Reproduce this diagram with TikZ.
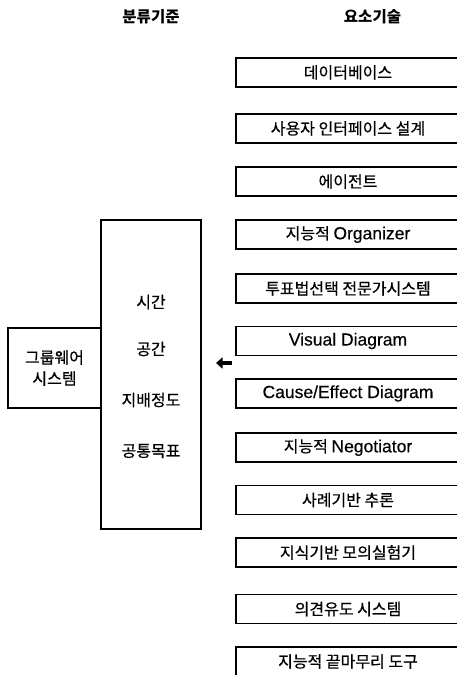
\documentclass[tikz,border=0pt]{standalone}
\usepackage{fontspec}
\setmainfont{Noto Sans CJK KR}
\newfontfamily\kr[FakeBold=0.5]{Noto Sans CJK KR}
\newfontfamily\lat[FakeBold=0.3]{Liberation Sans}
\usetikzlibrary{arrows.meta}
\tikzset{
  kor/.style={font=\kr\fontsize{16bp}{19bp}\selectfont},
  head/.style={font=\fontsize{15.5bp}{18bp}\selectfont\bfseries},
  rbox/.style={draw, line width=1.2bp, minimum width=224bp, minimum height=29bp, inner sep=0pt, kor},
  frame/.style={draw, line width=1.2bp, inner sep=0pt},
  midtxt/.style={kor, inner sep=0pt},
  bigarrow/.style={-{Triangle[length=6.5bp,width=11bp]}, line width=4bp}
}
\newcommand{\lt}[1]{{\lat\fontsize{17.5bp}{20bp}\selectfont #1}}
\begin{document}
\begin{tikzpicture}[x=1bp,y=-1bp]
\clip (0,0) rectangle (457,675);
\fill[white] (0,0) rectangle (457,675);
% headers
\node[head] (h1) at (151,17) {분류기준};
\node[head] (h2) at (372.5,17) {요소기술};
% right boxes
\node[rbox] (r1) at (348,72.5) {데이터베이스};
\node[rbox] (r2) at (348,128.5) {사용자 인터페이스 설계};
\node[rbox] (r3) at (348,181.5) {에이전트};
\node[rbox] (r4) at (348,234.5) {지능적 \lt{Organizer}};
\node[rbox] (r5) at (348,288.5) {투표법선택 전문가시스템};
\node[rbox] (r6) at (348,341) {\lt{Visual Diagram}};
\node[rbox] (r7) at (348,393.5) {\lt{Cause/Effect Diagram}};
\node[rbox] (r8) at (348,447.5) {지능적 \lt{Negotiator}};
\node[rbox] (r9) at (348,500) {사례기반 추론};
\node[rbox] (r10) at (348,552.5) {지식기반 모의실험기};
\node[rbox] (r11) at (348,609) {의견유도 시스템};
\node[rbox] (r12) at (348,661.5) {지능적 끝마무리 도구};
% middle box
\node[frame, minimum width=100bp, minimum height=309bp] (mid) at (151,374.5) {};
\node[midtxt] (m1) at (151,302) {시간};
\node[midtxt] (m2) at (151,349) {공간};
\node[midtxt] (m3) at (151,400) {지배정도};
\node[midtxt] (m4) at (151,451) {공통목표};
% left box
\node[frame, minimum width=93bp, minimum height=80bp, kor, align=center] (gw) at (54.5,368) {그룹웨어\\[2bp]시스템};
% arrow
\coordinate (as) at (232,363);
\coordinate (ae) at (216,363);
\draw[bigarrow] (as) -- (ae);
\end{tikzpicture}
\end{document}
